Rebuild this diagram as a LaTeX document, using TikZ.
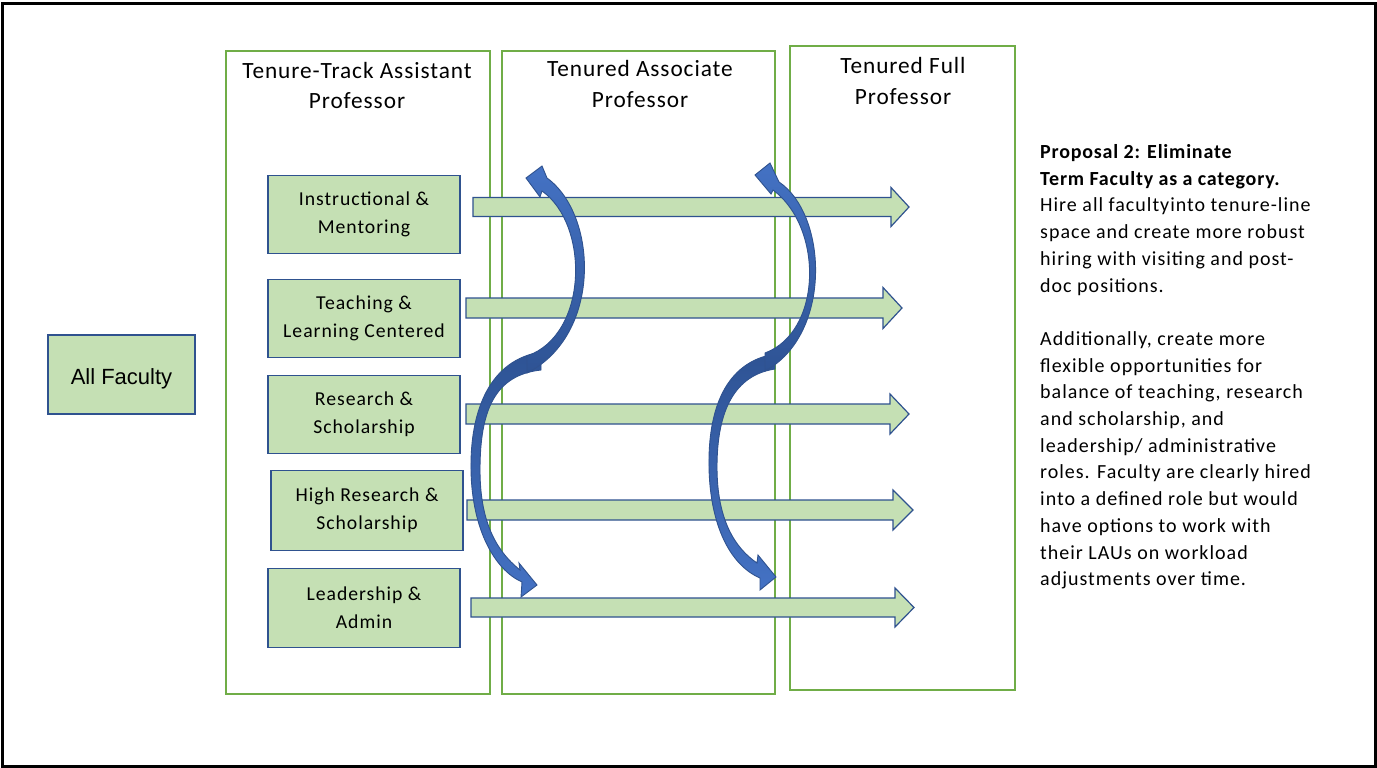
\documentclass[tikz,border=0pt]{standalone}
\usepackage{fontspec}
\setmainfont{Carlito}
\newfontfamily\titlefont[LetterSpace=4]{Carlito}
\newfontfamily\rolefont[LetterSpace=5]{Carlito}
\newfontfamily\sidefont[LetterSpace=5]{Carlito}
\newfontfamily\sideboldfont[LetterSpace=4]{Carlito}
\newfontfamily\arialfont{Liberation Sans}
\definecolor{lgreen}{HTML}{C5E0B4}
\definecolor{dblue}{HTML}{2F528F}
\definecolor{mblue}{HTML}{4472C4}
\definecolor{darkb}{HTML}{2E5394}
\definecolor{colgreen}{HTML}{70AD47}
\newcommand\barrowshape[6]{%
  \draw[blockarrow] (#1,#4-#5) -- (#2,#4-#5) -- (#2,#4-#6) -- (#3,#4) -- (#2,#4+#6) -- (#2,#4+#5) -- (#1,#4+#5) -- cycle;}
\begin{document}
\begin{tikzpicture}[x=1pt,y=-1pt,
  colbox/.style={draw=colgreen, line width=1.5pt},
  role/.style={draw=dblue, fill=lgreen, line width=1.5pt, minimum width=192pt, minimum height=78pt, align=center, font=\rolefont\fontsize{19.7}{28}\selectfont, inner sep=0pt},
  coltitle/.style={font=\titlefont\fontsize{23.3}{30}\selectfont, anchor=base, inner sep=0pt},
  sidetext/.style={font=\sidefont\fontsize{20}{26.7}\selectfont, anchor=base west, inner sep=0pt},
  sidebold/.style={font=\sideboldfont\fontsize{20}{26.7}\selectfont\bfseries, anchor=base west, inner sep=0pt},
  blockarrow/.style={draw=dblue, fill=lgreen, line width=1.2pt, line join=miter},
  upcurve/.style={draw=dblue, line width=0.9pt, top color=mblue, middle color=mblue, bottom color=darkb},
  downcurve/.style={draw=dblue, line width=0.9pt, top color=darkb, middle color=mblue, bottom color=mblue}]
\useasboundingbox (0,0) rectangle (1377,768);
\fill[white] (0,0) rectangle (1377,768);
\draw[line width=3pt] (2.5,4) rectangle (1375.5,766.5);

% column boxes
\draw[colbox] (226,51) rectangle (490,694);
\draw[colbox] (502,51) rectangle (775,694);
\draw[colbox] (790,46) rectangle (1015,690);

% column titles
\node[coltitle] (t1a) at (357,78.5) {Tenure-Track Assistant};
\node[coltitle] (t1b) at (357,108.5) {Professor};
\node[coltitle] (t2a) at (640,77) {Tenured Associate};
\node[coltitle] (t2b) at (640,107) {Professor};
\node[coltitle] (t3a) at (903,74) {Tenured Full};
\node[coltitle] (t3b) at (903,104) {Professor};

% role boxes
\node[role] (r1) at (364,214.5) {Instructional \&\\Mentoring};
\node[role] (r2) at (364,318.5) {Teaching \&\\Learning Centered};
\node[role] (r3) at (364,414.5) {Research \&\\Scholarship};
\node[role, minimum height=80pt] (r4) at (367,510.5) {High Research \&\\Scholarship};
\node[role, minimum height=79pt] (r5) at (364,608) {Leadership \&\\Admin};
\node[role, minimum width=147pt, minimum height=79pt, text height=19.6pt, text depth=0pt, font=\arialfont\fontsize{22}{26}\selectfont] (all) at (121.5,374.5) {All Faculty};

% block arrows
\barrowshape{473}{891}{909}{207}{9.5}{19.5}
\barrowshape{466}{883}{902}{308}{10}{20.5}
\barrowshape{466}{890}{909}{414}{10}{20}
\barrowshape{467}{893}{913}{510}{10}{20}
\barrowshape{471}{895}{914}{607.5}{9.5}{19.5}

% curved arrows, left pair
\draw[downcurve] (541,352) .. controls (490,360) and (470,410) .. (471,470)
  .. controls (472,530) and (495,570) .. (522,582) -- (521,597) -- (537,585) -- (519,563) -- (520,570)
  .. controls (495,550) and (480,520) .. (480,470)
  .. controls (480,410) and (495,375) .. (541,370) -- cycle;
\draw[upcurve] (527,356) .. controls (588,335) and (590,225) .. (542,191) -- (540,197) -- (526,178) -- (542,166) -- (547,178)
  .. controls (598,215) and (602,335) .. (527,373) -- cycle;

% curved arrows, right pair
\draw[downcurve] (775,354) .. controls (725,362) and (708,410) .. (709,467)
  .. controls (710,525) and (730,565) .. (760,578) -- (760,590) -- (776,577) -- (758,555) -- (757,563)
  .. controls (735,548) and (717,520) .. (717,467)
  .. controls (717,410) and (735,375) .. (775,369) -- cycle;
\draw[upcurve] (765,353) .. controls (822,332) and (824,228) .. (773,190) -- (771,194) -- (755,175) -- (770,163) -- (779,182)
  .. controls (828,215) and (832,335) .. (765,371) -- cycle;

% side text
\node[sidebold] (s0) at (1040,158.5) {Proposal 2: Eliminate};
\node[sidebold] (s1) at (1040,185.2) {Term Faculty as a category.};
\node[sidetext] (s2) at (1040,211.9) {Hire all facultyinto tenure-line};
\node[sidetext] (s3) at (1040,238.6) {space and create more robust};
\node[sidetext] (s4) at (1040,265.3) {hiring with visiting and post-};
\node[sidetext] (s5) at (1040,292) {doc positions.};
\node[sidetext] (s7) at (1040,345.4) {Additionally, create more};
\node[sidetext] (s8) at (1040,372.1) {flexible opportunities for};
\node[sidetext] (s9) at (1040,398.8) {balance of teaching, research};
\node[sidetext] (s10) at (1040,425.5) {and scholarship, and};
\node[sidetext] (s11) at (1040,452.2) {leadership/ administrative};
\node[sidetext] (s12) at (1040,478.9) {roles. Faculty are clearly hired};
\node[sidetext] (s13) at (1040,505.6) {into a defined role but would};
\node[sidetext] (s14) at (1040,532.3) {have options to work with};
\node[sidetext] (s15) at (1040,559) {their LAUs on workload};
\node[sidetext] (s16) at (1040,585.7) {adjustments over time.};
\end{tikzpicture}
\end{document}
